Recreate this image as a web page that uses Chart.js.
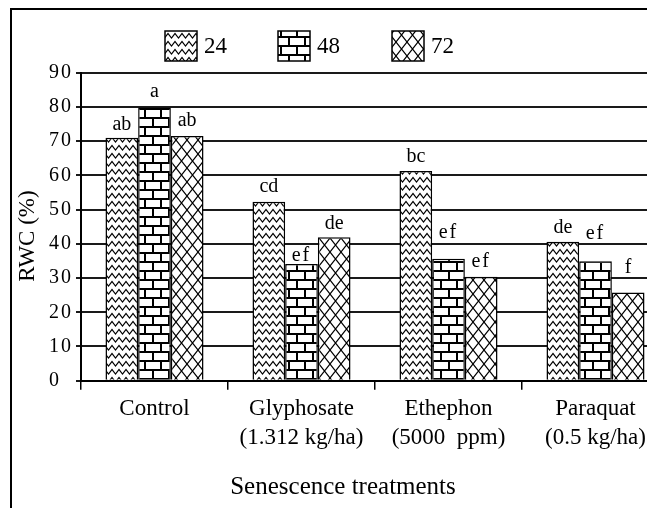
<!DOCTYPE html>
<html>
<head>
<meta charset="utf-8">
<script src="https://cdn.jsdelivr.net/npm/chart.js@4.4.1/dist/chart.umd.min.js"></script>
<style>
  html, body { margin: 0; padding: 0; background: #fff; width: 647px; height: 508px; overflow: hidden; }
  #frame { position: absolute; left: 10px; top: 8px; width: 720px; height: 540px; border: 2.5px solid #000; }
  #wrap { position: absolute; left: 0; top: 0; width: 690px; height: 508px; }
</style>
</head>
<body>
<div id="frame"></div>
<div id="wrap"><canvas id="c" width="690" height="508"></canvas></div>
<script>
// ---- data ----
const categories = [['Control'], ['Glyphosate', '(1.312 kg/ha)'], ['Ethephon', '(5000  ppm)'], ['Paraquat', '(0.5 kg/ha)']];
const seriesNames = ['24', '48', '72'];
const rwc24 = [71.0, 52.3, 61.3, 40.6];
const rwc48 = [79.8, 34.1, 35.6, 34.9];
const rwc72 = [71.5, 41.9, 30.4, 25.8];
const letters24 = ['ab', 'cd', 'bc', 'de'];
const letters48 = ['a', 'ef', 'ef', 'ef'];
const letters72 = ['ab', 'de', 'ef', 'f'];
const yMin = 0, yMax = 90, yStep = 10;
const yTitle = 'RWC (%)';
const xTitle = 'Senescence treatments';

const SERIF = '"Liberation Serif", "DejaVu Serif", serif';

// ---- fill patterns ----
function makeTile(w, h, draw) {
  const c = document.createElement('canvas');
  c.width = w; c.height = h;
  const g = c.getContext('2d');
  g.fillStyle = '#fff'; g.fillRect(0, 0, w, h);
  g.strokeStyle = '#000'; g.fillStyle = '#000';
  draw(g, w, h);
  return document.getElementById('c').getContext('2d').createPattern(c, 'repeat');
}
const zigzag = makeTile(7, 8, (g, w, h) => {
  g.lineWidth = 1.2;
  g.beginPath();
  g.moveTo(-3.5, 6); g.lineTo(0, 1.5); g.lineTo(3.5, 6); g.lineTo(7, 1.5); g.lineTo(10.5, 6);
  g.stroke();
});
const brick = makeTile(16, 18, (g, w, h) => {
  g.fillRect(0, 0, 16, 2);
  g.fillRect(0, 9, 16, 2);
  g.fillRect(0, 0, 2, 9);
  g.fillRect(8, 9, 2, 9);
});
const diamond = makeTile(11, 14, (g, w, h) => {
  g.lineWidth = 1.2;
  for (const dx of [-w, 0, w]) {
    for (const dy of [-h, 0, h]) {
      g.beginPath();
      g.moveTo(dx, dy); g.lineTo(dx + w, dy + h);
      g.moveTo(dx + w, dy); g.lineTo(dx, dy + h);
      g.stroke();
    }
  }
});
const patterns = [zigzag, brick, diamond];

// label lifts above bar tops (styling, per bar)
const labelLift = [[13, 15, 14, 14], [16, 8, 26, 28], [15, 14, 15, 25]];

const annotate = {
  id: 'annotate',
  afterDatasetsDraw(chart) {
    // letter spacing for the y tick layer drawn afterwards
    chart.ctx.letterSpacing = '2px';
  },
  afterDraw(chart) {
    const ctx = chart.ctx;
    ctx.save();
    ctx.letterSpacing = '0px';
    ctx.fillStyle = '#000';
    // value letters above the bars
    const letterSets = [letters24, letters48, letters72];
    ctx.font = '20px ' + SERIF;
    ctx.textAlign = 'center';
    ctx.textBaseline = 'middle';
    chart.data.datasets.forEach((ds, di) => {
      const meta = chart.getDatasetMeta(di);
      meta.data.forEach((bar, i) => {
        ctx.letterSpacing = letterSets[di][i] === 'ef' ? '2px' : '0px';
        ctx.fillText(letterSets[di][i], bar.x, bar.y - labelLift[di][i]);
      });
    });
    ctx.letterSpacing = '0px';
    // y-axis title
    ctx.save();
    ctx.translate(28, 236);
    ctx.rotate(-Math.PI / 2);
    ctx.font = '23px ' + SERIF;
    ctx.fillText(yTitle, 0, 0);
    ctx.restore();
    // x-axis title
    ctx.font = '25px ' + SERIF;
    ctx.fillText(xTitle, 343, 487);
    // legend
    const lx = [165, 278, 392];
    ctx.font = '23px ' + SERIF;
    ctx.textAlign = 'left';
    chart.data.datasets.forEach((ds, di) => {
      ctx.fillStyle = ds.backgroundColor;
      ctx.fillRect(lx[di], 31, 32, 30);
      ctx.strokeStyle = '#000';
      ctx.lineWidth = 1.5;
      ctx.strokeRect(lx[di], 31, 32, 30);
      ctx.fillStyle = '#000';
      ctx.fillText(ds.label, lx[di] + 39, 47);
    });
    ctx.restore();
    ctx.letterSpacing = '0px';
  }
};

const datasets = [rwc24, rwc48, rwc72].map((vals, i) => ({
  label: seriesNames[i],
  data: vals,
  backgroundColor: patterns[i],
  borderColor: '#000',
  borderWidth: 1.5,
  borderSkipped: 'bottom',
  categoryPercentage: 0.667,
  barPercentage: 1.0
}));

new Chart(document.getElementById('c'), {
  type: 'bar',
  data: { labels: categories, datasets },
  options: {
    responsive: false,
    animation: false,
    devicePixelRatio: 1,
    layout: { padding: { left: 49, right: 21, top: 72.7, bottom: 0 } },
    plugins: { legend: { display: false }, tooltip: { enabled: false }, title: { display: false } },
    scales: {
      x: {
        afterFit: (s) => { s.height = 508 - 380.7; },
        grid: { display: true, drawOnChartArea: false, drawTicks: true, tickLength: 9, color: '#000', lineWidth: 1.5, offset: true },
        border: { display: true, color: '#000', width: 2 },
        ticks: { color: '#000', font: { family: SERIF, size: 23, lineHeight: 1.25 }, padding: 5, maxRotation: 0, autoSkip: false }
      },
      y: {
        min: yMin, max: yMax,
        afterFit: (s) => { s.width = 32; },
        grid: { color: '#1a1a1a', lineWidth: 2, tickLength: 5, drawTicks: true },
        border: { display: true, color: '#000', width: 2 },
        ticks: { stepSize: yStep, color: '#000', crossAlign: 'far', padding: 3, z: 1, font: { family: SERIF, size: 20 } }
      }
    }
  },
  plugins: [annotate]
});
</script>
</body>
</html>
